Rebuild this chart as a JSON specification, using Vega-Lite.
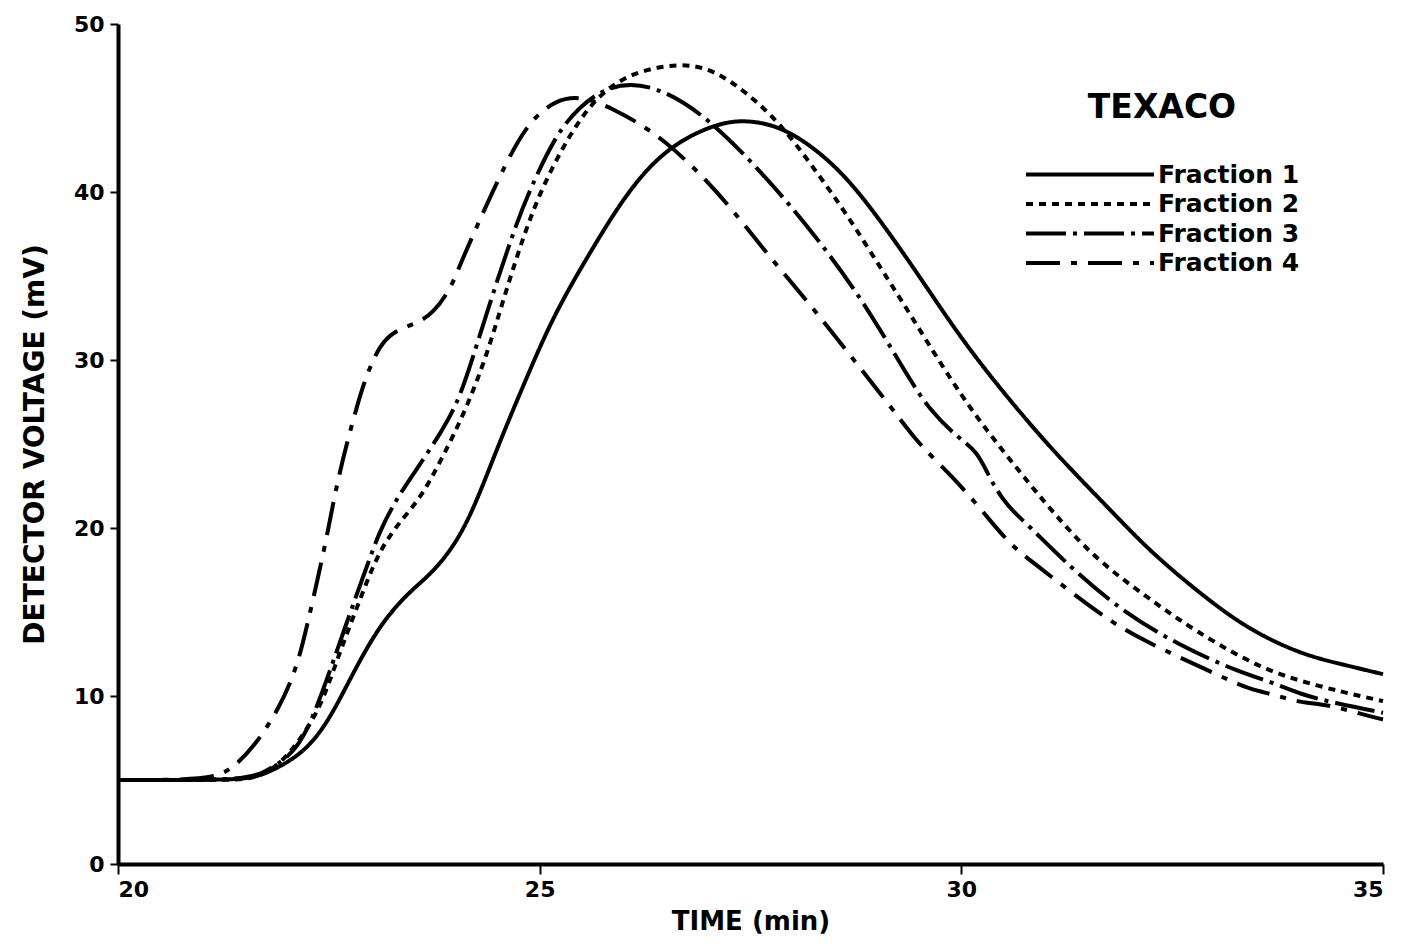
{
  "$schema": "https://vega.github.io/schema/vega-lite/v6.json",
  "autosize": "none",
  "width": 1265,
  "height": 840,
  "padding": {"left": 118, "top": 24, "right": 19, "bottom": 83},
  "background": "white",
  "config": {
    "view": {"stroke": null},
    "font": "DejaVu Sans",
    "axis": {
      "domainColor": "black",
      "domainWidth": 4,
      "tickColor": "black",
      "tickWidth": 2,
      "labelColor": "black",
      "labelFont": "DejaVu Sans",
      "labelFontWeight": "bold",
      "labelFontSize": 22,
      "titleColor": "black",
      "titleFont": "DejaVu Sans",
      "titleFontWeight": "bold",
      "grid": false
    }
  },
  "datasets": {
    "curves": [
      {"t": 20, "v": 5.0, "series": "Fraction 1"},
      {"t": 21.0, "v": 5.0, "series": "Fraction 1"},
      {"t": 21.5, "v": 5.05, "series": "Fraction 1"},
      {"t": 21.72, "v": 5.3, "series": "Fraction 1"},
      {"t": 22.04, "v": 6.1, "series": "Fraction 1"},
      {"t": 22.31, "v": 7.2, "series": "Fraction 1"},
      {"t": 22.55, "v": 9.0, "series": "Fraction 1"},
      {"t": 22.79, "v": 11.4, "series": "Fraction 1"},
      {"t": 23.1, "v": 14.2, "series": "Fraction 1"},
      {"t": 23.43, "v": 16.1, "series": "Fraction 1"},
      {"t": 23.7, "v": 17.2, "series": "Fraction 1"},
      {"t": 23.97, "v": 18.8, "series": "Fraction 1"},
      {"t": 24.21, "v": 21.0, "series": "Fraction 1"},
      {"t": 24.53, "v": 25.2, "series": "Fraction 1"},
      {"t": 24.85, "v": 29.0, "series": "Fraction 1"},
      {"t": 25.16, "v": 32.6, "series": "Fraction 1"},
      {"t": 25.56, "v": 36.1, "series": "Fraction 1"},
      {"t": 26.07, "v": 40.3, "series": "Fraction 1"},
      {"t": 26.55, "v": 42.8, "series": "Fraction 1"},
      {"t": 27.1, "v": 44.1, "series": "Fraction 1"},
      {"t": 27.46, "v": 44.3, "series": "Fraction 1"},
      {"t": 27.85, "v": 43.9, "series": "Fraction 1"},
      {"t": 28.24, "v": 42.7, "series": "Fraction 1"},
      {"t": 28.64, "v": 40.9, "series": "Fraction 1"},
      {"t": 29.04, "v": 38.3, "series": "Fraction 1"},
      {"t": 29.39, "v": 35.8, "series": "Fraction 1"},
      {"t": 29.7, "v": 33.5, "series": "Fraction 1"},
      {"t": 30.0, "v": 31.3, "series": "Fraction 1"},
      {"t": 30.38, "v": 28.8, "series": "Fraction 1"},
      {"t": 30.81, "v": 26.2, "series": "Fraction 1"},
      {"t": 31.2, "v": 24.0, "series": "Fraction 1"},
      {"t": 31.8, "v": 20.9, "series": "Fraction 1"},
      {"t": 32.24, "v": 18.6, "series": "Fraction 1"},
      {"t": 32.83, "v": 16.1, "series": "Fraction 1"},
      {"t": 33.39, "v": 14.0, "series": "Fraction 1"},
      {"t": 34.02, "v": 12.5, "series": "Fraction 1"},
      {"t": 34.5, "v": 11.9, "series": "Fraction 1"},
      {"t": 35, "v": 11.3, "series": "Fraction 1"},

      {"t": 20, "v": 5.0, "series": "Fraction 2"},
      {"t": 21.3, "v": 5.0, "series": "Fraction 2"},
      {"t": 21.6, "v": 5.05, "series": "Fraction 2"},
      {"t": 21.9, "v": 5.8, "series": "Fraction 2"},
      {"t": 22.16, "v": 7.4, "series": "Fraction 2"},
      {"t": 22.4, "v": 9.3, "series": "Fraction 2"},
      {"t": 22.6, "v": 12.2, "series": "Fraction 2"},
      {"t": 22.79, "v": 14.7, "series": "Fraction 2"},
      {"t": 22.95, "v": 16.8, "series": "Fraction 2"},
      {"t": 23.1, "v": 18.6, "series": "Fraction 2"},
      {"t": 23.31, "v": 20.2, "series": "Fraction 2"},
      {"t": 23.58, "v": 21.7, "series": "Fraction 2"},
      {"t": 23.85, "v": 24.2, "series": "Fraction 2"},
      {"t": 24.14, "v": 27.2, "series": "Fraction 2"},
      {"t": 24.38, "v": 30.4, "series": "Fraction 2"},
      {"t": 24.57, "v": 33.6, "series": "Fraction 2"},
      {"t": 24.77, "v": 36.8, "series": "Fraction 2"},
      {"t": 25.0, "v": 40.0, "series": "Fraction 2"},
      {"t": 25.36, "v": 43.5, "series": "Fraction 2"},
      {"t": 25.68, "v": 45.7, "series": "Fraction 2"},
      {"t": 26.07, "v": 47.1, "series": "Fraction 2"},
      {"t": 26.66, "v": 47.7, "series": "Fraction 2"},
      {"t": 27.06, "v": 47.3, "series": "Fraction 2"},
      {"t": 27.46, "v": 45.9, "series": "Fraction 2"},
      {"t": 27.85, "v": 44.1, "series": "Fraction 2"},
      {"t": 28.24, "v": 41.5, "series": "Fraction 2"},
      {"t": 28.64, "v": 38.7, "series": "Fraction 2"},
      {"t": 29.04, "v": 35.5, "series": "Fraction 2"},
      {"t": 29.36, "v": 33.0, "series": "Fraction 2"},
      {"t": 29.9, "v": 28.6, "series": "Fraction 2"},
      {"t": 30.3, "v": 25.8, "series": "Fraction 2"},
      {"t": 30.7, "v": 23.3, "series": "Fraction 2"},
      {"t": 31.09, "v": 20.9, "series": "Fraction 2"},
      {"t": 31.6, "v": 18.1, "series": "Fraction 2"},
      {"t": 32.2, "v": 15.9, "series": "Fraction 2"},
      {"t": 32.56, "v": 14.6, "series": "Fraction 2"},
      {"t": 33.03, "v": 13.1, "series": "Fraction 2"},
      {"t": 33.62, "v": 11.5, "series": "Fraction 2"},
      {"t": 34.22, "v": 10.6, "series": "Fraction 2"},
      {"t": 34.81, "v": 9.9, "series": "Fraction 2"},
      {"t": 35, "v": 9.7, "series": "Fraction 2"},

      {"t": 20, "v": 5.0, "series": "Fraction 3"},
      {"t": 21.4, "v": 5.0, "series": "Fraction 3"},
      {"t": 21.7, "v": 5.3, "series": "Fraction 3"},
      {"t": 22.04, "v": 6.4, "series": "Fraction 3"},
      {"t": 22.24, "v": 7.8, "series": "Fraction 3"},
      {"t": 22.48, "v": 11.0, "series": "Fraction 3"},
      {"t": 22.72, "v": 14.5, "series": "Fraction 3"},
      {"t": 22.95, "v": 17.7, "series": "Fraction 3"},
      {"t": 23.1, "v": 19.8, "series": "Fraction 3"},
      {"t": 23.3, "v": 21.7, "series": "Fraction 3"},
      {"t": 23.46, "v": 22.9, "series": "Fraction 3"},
      {"t": 23.85, "v": 25.8, "series": "Fraction 3"},
      {"t": 24.06, "v": 27.8, "series": "Fraction 3"},
      {"t": 24.26, "v": 31.0, "series": "Fraction 3"},
      {"t": 24.5, "v": 34.8, "series": "Fraction 3"},
      {"t": 24.73, "v": 38.2, "series": "Fraction 3"},
      {"t": 24.89, "v": 40.2, "series": "Fraction 3"},
      {"t": 25.2, "v": 43.5, "series": "Fraction 3"},
      {"t": 25.48, "v": 45.1, "series": "Fraction 3"},
      {"t": 25.75, "v": 46.1, "series": "Fraction 3"},
      {"t": 26.07, "v": 46.5, "series": "Fraction 3"},
      {"t": 26.46, "v": 46.1, "series": "Fraction 3"},
      {"t": 26.98, "v": 44.5, "series": "Fraction 3"},
      {"t": 27.65, "v": 41.1, "series": "Fraction 3"},
      {"t": 28.24, "v": 37.6, "series": "Fraction 3"},
      {"t": 28.83, "v": 33.6, "series": "Fraction 3"},
      {"t": 29.39, "v": 28.8, "series": "Fraction 3"},
      {"t": 29.63, "v": 27.0, "series": "Fraction 3"},
      {"t": 29.95, "v": 25.4, "series": "Fraction 3"},
      {"t": 30.19, "v": 24.6, "series": "Fraction 3"},
      {"t": 30.34, "v": 22.9, "series": "Fraction 3"},
      {"t": 30.54, "v": 21.3, "series": "Fraction 3"},
      {"t": 30.81, "v": 20.1, "series": "Fraction 3"},
      {"t": 31.2, "v": 18.1, "series": "Fraction 3"},
      {"t": 31.88, "v": 15.1, "series": "Fraction 3"},
      {"t": 32.59, "v": 13.0, "series": "Fraction 3"},
      {"t": 33.3, "v": 11.4, "series": "Fraction 3"},
      {"t": 33.7, "v": 10.8, "series": "Fraction 3"},
      {"t": 34.02, "v": 10.1, "series": "Fraction 3"},
      {"t": 34.41, "v": 9.6, "series": "Fraction 3"},
      {"t": 35, "v": 9.0, "series": "Fraction 3"},

      {"t": 20, "v": 5.0, "series": "Fraction 4"},
      {"t": 21.1, "v": 5.0, "series": "Fraction 4"},
      {"t": 21.33, "v": 5.6, "series": "Fraction 4"},
      {"t": 21.59, "v": 6.8, "series": "Fraction 4"},
      {"t": 21.92, "v": 9.3, "series": "Fraction 4"},
      {"t": 22.12, "v": 11.7, "series": "Fraction 4"},
      {"t": 22.24, "v": 14.1, "series": "Fraction 4"},
      {"t": 22.49, "v": 19.7, "series": "Fraction 4"},
      {"t": 22.6, "v": 22.9, "series": "Fraction 4"},
      {"t": 22.87, "v": 28.0, "series": "Fraction 4"},
      {"t": 22.99, "v": 29.6, "series": "Fraction 4"},
      {"t": 23.1, "v": 30.8, "series": "Fraction 4"},
      {"t": 23.26, "v": 31.7, "series": "Fraction 4"},
      {"t": 23.55, "v": 32.2, "series": "Fraction 4"},
      {"t": 23.74, "v": 32.8, "series": "Fraction 4"},
      {"t": 23.94, "v": 34.2, "series": "Fraction 4"},
      {"t": 24.06, "v": 35.7, "series": "Fraction 4"},
      {"t": 24.17, "v": 37.0, "series": "Fraction 4"},
      {"t": 24.61, "v": 41.9, "series": "Fraction 4"},
      {"t": 24.89, "v": 44.3, "series": "Fraction 4"},
      {"t": 25.2, "v": 45.5, "series": "Fraction 4"},
      {"t": 25.48, "v": 45.7, "series": "Fraction 4"},
      {"t": 25.83, "v": 45.1, "series": "Fraction 4"},
      {"t": 26.46, "v": 43.3, "series": "Fraction 4"},
      {"t": 27.14, "v": 39.9, "series": "Fraction 4"},
      {"t": 27.65, "v": 36.6, "series": "Fraction 4"},
      {"t": 28.24, "v": 33.1, "series": "Fraction 4"},
      {"t": 28.6, "v": 30.8, "series": "Fraction 4"},
      {"t": 29.04, "v": 28.0, "series": "Fraction 4"},
      {"t": 29.27, "v": 26.5, "series": "Fraction 4"},
      {"t": 29.47, "v": 25.2, "series": "Fraction 4"},
      {"t": 29.66, "v": 24.2, "series": "Fraction 4"},
      {"t": 30.02, "v": 22.4, "series": "Fraction 4"},
      {"t": 30.38, "v": 20.2, "series": "Fraction 4"},
      {"t": 30.61, "v": 18.9, "series": "Fraction 4"},
      {"t": 30.81, "v": 18.1, "series": "Fraction 4"},
      {"t": 31.68, "v": 14.7, "series": "Fraction 4"},
      {"t": 32.15, "v": 13.3, "series": "Fraction 4"},
      {"t": 33.15, "v": 11.0, "series": "Fraction 4"},
      {"t": 33.42, "v": 10.4, "series": "Fraction 4"},
      {"t": 33.7, "v": 10.1, "series": "Fraction 4"},
      {"t": 34.02, "v": 9.6, "series": "Fraction 4"},
      {"t": 34.34, "v": 9.5, "series": "Fraction 4"},
      {"t": 34.76, "v": 8.9, "series": "Fraction 4"},
      {"t": 35, "v": 8.6, "series": "Fraction 4"}
    ]
  },
  "data": {"name": "curves"},
  "mark": {"type": "line", "interpolate": "basis", "color": "black", "strokeWidth": 4, "strokeCap": "butt"},
  "encoding": {
    "x": {
      "field": "t", "type": "quantitative",
      "scale": {"domain": [20, 35], "nice": false, "zero": false},
      "axis": {
        "title": "TIME (min)", "values": [20, 25, 30, 35],
        "tickSize": 10, "labelPadding": 5,
        "titleFontSize": 26, "titlePadding": 8
      }
    },
    "y": {
      "field": "v", "type": "quantitative",
      "scale": {"domain": [0, 50], "nice": false},
      "axis": {
        "title": "DETECTOR VOLTAGE (mV)", "values": [0, 10, 20, 30, 40, 50],
        "tickSize": 8, "labelPadding": 6,
        "titleFontSize": 28, "titlePadding": 24
      }
    },
    "strokeDash": {
      "field": "series", "type": "nominal",
      "scale": {
        "domain": ["Fraction 1", "Fraction 2", "Fraction 3", "Fraction 4"],
        "range": [[1, 0], [7, 6], [40, 7, 4, 7], [34, 11, 6, 11]]
      },
      "legend": {
        "title": "TEXACO",
        "orient": "none",
        "legendX": 906,
        "legendY": 68,
        "padding": 0,
        "titleFont": "DejaVu Sans",
        "titleFontWeight": "bold",
        "titleFontSize": 33,
        "titleColor": "black",
        "titleAnchor": "middle",
        "titlePadding": 35,
        "labelFont": "DejaVu Sans",
        "labelFontWeight": "bold",
        "labelFontSize": 25,
        "labelColor": "black",
        "labelOffset": 2,
        "symbolType": "stroke",
        "symbolSize": 16384,
        "symbolStrokeWidth": 4,
        "symbolStrokeColor": "black",
        "clipHeight": 29,
        "rowPadding": 0.5
      }
    }
  }
}
